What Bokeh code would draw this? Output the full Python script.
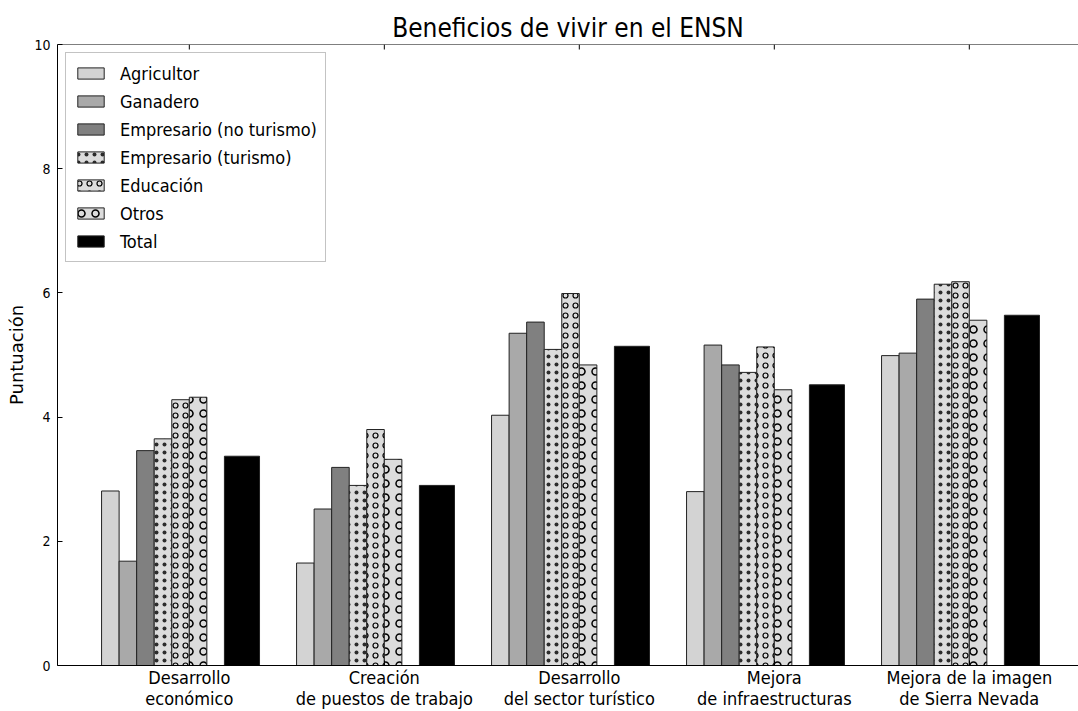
import math
from bokeh.plotting import figure
from bokeh.models import Range1d, FixedTicker, Span
from bokeh.embed import file_html
from bokeh.resources import INLINE

categories = ["Desarrollo\neconómico", "Creación\nde puestos de trabajo",
              "Desarrollo\ndel sector turístico", "Mejora\nde infraestructuras",
              "Mejora de la imagen\nde Sierra Nevada"]
series_names = ["Agricultor", "Ganadero", "Empresario (no turismo)",
                "Empresario (turismo)", "Educación", "Otros", "Total"]
agricultor = [2.81, 1.65, 4.03, 2.80, 4.99]
ganadero = [1.68, 2.52, 5.35, 5.16, 5.03]
empresario_no_turismo = [3.46, 3.19, 5.53, 4.84, 5.90]
empresario_turismo = [3.65, 2.90, 5.09, 4.72, 6.14]
educacion = [4.28, 3.80, 5.99, 5.13, 6.18]
otros = [4.32, 3.32, 4.84, 4.44, 5.56]
total = [3.37, 2.90, 5.14, 4.52, 5.64]
y_ticks = [0, 2, 4, 6, 8, 10]

FONT = "DejaVu Sans Condensed"

p = figure(width=1078, height=711, output_backend="svg", toolbar_location=None,
           x_range=Range1d(-0.226, 5.01), y_range=Range1d(0, 10),
           min_border_left=57, min_border_right=0, min_border_top=44,
           min_border_bottom=40, background_fill_color="white",
           border_fill_color="white")
p.outline_line_color = None
p.grid.visible = False

p.title.text = "Beneficios de vivir en el ENSN"
p.title.text_font = FONT
p.title.text_font_size = "26px"
p.title.text_font_style = "normal"
p.title.text_color = "black"
p.title.align = "center"
p.title.offset = 20
p.title.standoff = 3

n = len(categories)
bw = 0.09
styles = [
    dict(fill_color="#d3d3d3"),
    dict(fill_color="#a9a9a9"),
    dict(fill_color="#808080"),
    dict(fill_color="#dcdcdc", hatch_pattern=".", hatch_color="black", hatch_scale=8,
         hatch_weight=0.5, hatch_alpha=0.8),
    dict(fill_color="#dcdcdc", hatch_pattern="o", hatch_color="black", hatch_scale=10, hatch_weight=1.2),
    dict(fill_color="#dcdcdc", hatch_pattern="o", hatch_color="black", hatch_scale=14, hatch_weight=1.5),
]
values = [agricultor, ganadero, empresario_no_turismo, empresario_turismo, educacion, otros]
for k, (name, vals, st) in enumerate(zip(series_names[:6], values, styles)):
    xs = [i + k * bw + bw / 2 for i in range(n)]
    p.vbar(x=xs, top=vals, bottom=0, width=bw, line_color="#222222", line_width=1,
           legend_label=name, **st)
xs_total = [i + 7 * bw + bw for i in range(n)]
p.vbar(x=xs_total, top=total, bottom=0, width=2 * bw, fill_color="black",
       line_color="#222222", line_width=1, legend_label=series_names[6])

tick_pos = [i + 0.45 for i in range(n)]
xax = p.xaxis[0]
xax.ticker = FixedTicker(ticks=tick_pos)
xax.major_label_overrides = {t: c for t, c in zip(tick_pos, categories)}
xax.major_tick_in = 5
xax.major_tick_out = 0
xax.minor_tick_line_color = None
xax.major_label_text_font = FONT
xax.major_label_text_font_size = "18px"
xax.major_label_text_line_height = 1.0
xax.major_label_text_color = "black"
xax.major_label_standoff = 1
xax.axis_line_color = "black"

# top spine with inward ticks
p.add_layout(Span(location=10, dimension="width", line_color="black", line_width=1))
p.ray(x=tick_pos, y=[10] * n, length=5, length_units="screen",
      angle=-math.pi / 2, line_color="black", line_width=1)

yax = p.yaxis[0]
yax.ticker = FixedTicker(ticks=y_ticks)
yax.major_tick_in = 5
yax.major_tick_out = 0
yax.minor_tick_line_color = None
yax.major_label_text_font = FONT
yax.major_label_text_font_size = "14px"
yax.major_label_text_color = "black"
yax.major_label_standoff = 7
yax.axis_line_color = "black"
yax.axis_label = "Puntuación"
yax.axis_label_text_font = "DejaVu Sans"
yax.axis_label_text_font_size = "18px"
yax.axis_label_text_font_style = "normal"
yax.axis_label_text_color = "black"
yax.axis_label_standoff = 4

lg = p.legend[0]
lg.location = "top_left"
lg.margin = 8
lg.padding = 8
lg.spacing = 4
lg.label_height = 24
lg.glyph_height = 14
lg.glyph_width = 33
lg.label_standoff = 13
lg.label_text_font = FONT
lg.label_text_font_size = "18px"
lg.label_text_color = "black"
lg.border_line_color = "#888888"
lg.border_line_width = 1
lg.background_fill_color = "white"
lg.background_fill_alpha = 1

open("out.html", "w").write(file_html(p, INLINE))
